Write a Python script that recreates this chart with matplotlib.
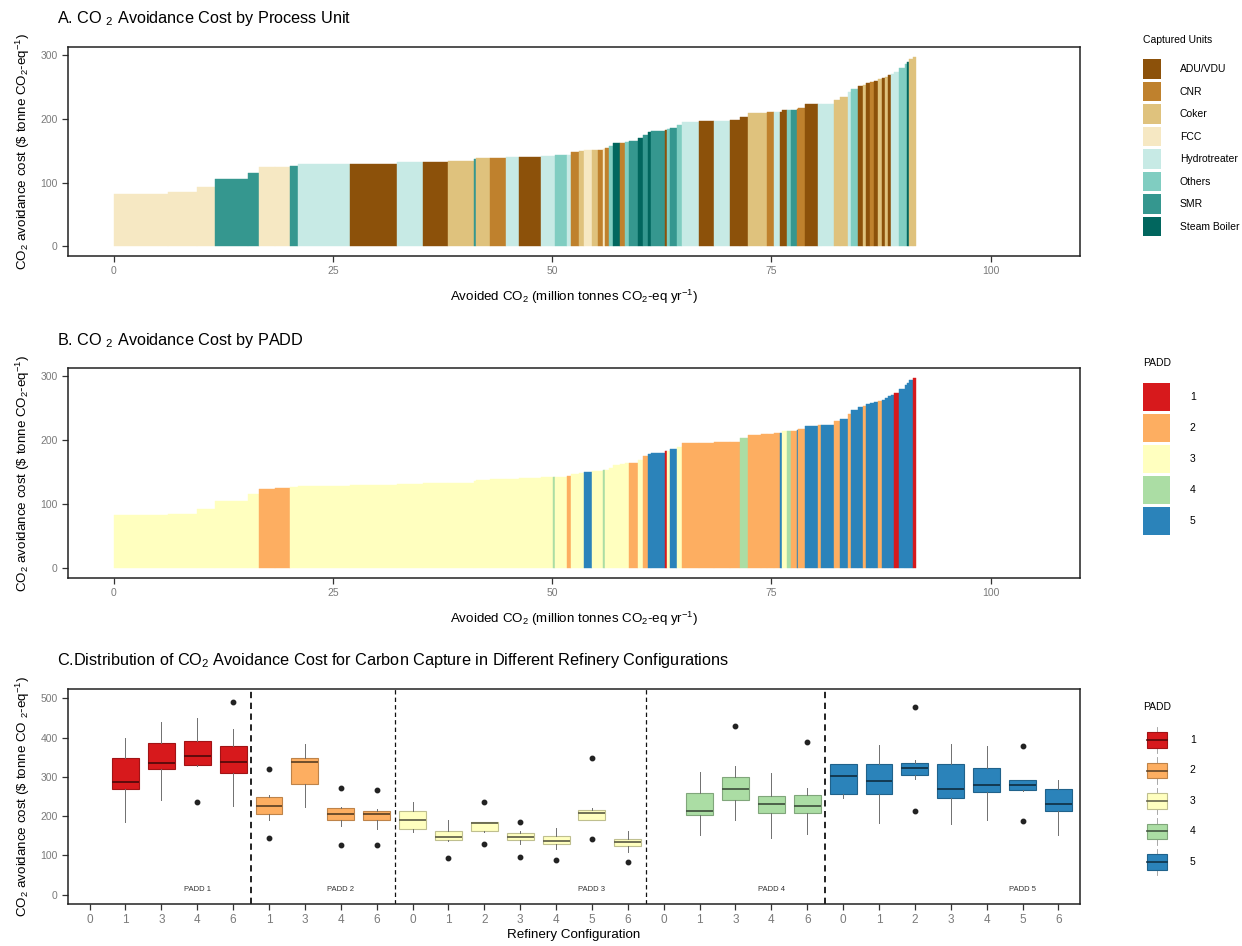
import numpy as np
import matplotlib
matplotlib.use("Agg")
import matplotlib.pyplot as plt
from matplotlib.patches import Patch, Rectangle
from matplotlib.lines import Line2D
from matplotlib.legend_handler import HandlerBase

plt.rcParams['font.family'] = ['Liberation Sans', 'DejaVu Sans']
plt.rcParams['mathtext.fontset'] = 'custom'
plt.rcParams['mathtext.rm'] = 'Liberation Sans'
plt.rcParams['mathtext.it'] = 'Liberation Sans:italic'
plt.rcParams['mathtext.bf'] = 'Liberation Sans:bold'

# ================= DATA: COST CURVE (panels A & B) =================
# avoided CO2 per captured unit (million t/yr), cost ($/t), unit type, PADD
avoided = [6.26, 3.23, 2.09, 3.80, 1.25, 1.78, 1.71, 0.88, 5.95, 5.40,
           2.96, 2.77, 3.04, 0.19, 1.59, 1.90, 1.44, 2.55, 1.31, 0.20,
           1.40, 0.50, 0.84, 0.61, 0.85, 0.74, 0.57, 0.19, 0.50, 0.45,
           0.76, 0.65, 0.44, 1.01, 0.57, 0.57, 0.38, 1.50, 0.27, 0.30,
           0.90, 0.50, 2.00, 1.70, 1.80, 1.10, 0.90, 1.50, 0.70, 0.80,
           0.70, 0.20, 0.60, 0.45, 0.65, 0.20, 0.70, 1.50, 0.40, 1.50,
           0.60, 0.90, 0.40, 0.80, 0.50, 0.40, 0.50, 0.40, 0.50, 0.40,
           0.40, 0.30, 0.35, 0.35, 0.60, 0.60, 0.30, 0.20, 0.50, 0.30]
cost = [83, 85.5, 93, 106, 116, 124, 125, 127, 129, 130,
        132, 133, 134, 137, 138.5, 139, 139.6, 141, 142, 142,
        143, 144, 148, 149, 150.6, 151.7, 152, 153, 154, 157,
        161.7, 163, 164, 165, 170, 175, 179, 181, 183, 184,
        186, 190, 196, 196.5, 197, 198, 203, 209, 209.5, 210.6,
        211, 211, 214, 214, 214.8, 216, 217, 223, 223.5, 224,
        230, 234, 241.6, 246.8, 252, 254, 256, 258, 260, 262,
        263.6, 266, 269, 271, 274, 280, 286, 290, 294, 298]
unit = ["FCC", "FCC", "FCC", "SMR", "SMR", "FCC", "FCC", "SMR", "Hydrotreater", "ADU/VDU",
        "Hydrotreater", "ADU/VDU", "Coker", "SMR", "Coker", "CNR", "Hydrotreater", "ADU/VDU", "Hydrotreater", "Hydrotreater",
        "Others", "Hydrotreater", "CNR", "Coker", "FCC", "Coker", "CNR", "FCC", "CNR", "Others",
        "Steam Boiler", "CNR", "Others", "SMR", "Steam Boiler", "SMR", "Steam Boiler", "SMR", "ADU/VDU", "Others",
        "SMR", "Others", "Hydrotreater", "ADU/VDU", "Hydrotreater", "ADU/VDU", "ADU/VDU", "Coker", "Coker", "CNR",
        "Hydrotreater", "ADU/VDU", "ADU/VDU", "Others", "SMR", "CNR", "CNR", "ADU/VDU", "Hydrotreater", "Hydrotreater",
        "Coker", "Coker", "Hydrotreater", "Others", "ADU/VDU", "Coker", "ADU/VDU", "CNR", "ADU/VDU", "Coker",
        "ADU/VDU", "Coker", "ADU/VDU", "Hydrotreater", "Hydrotreater", "Others", "Others", "Steam Boiler", "Coker", "Coker"]
padd = [3, 3, 3, 3, 3, 2, 2, 3, 3, 3,
        3, 3, 3, 3, 3, 3, 3, 3, 3, 4,
        3, 2, 3, 3, 5, 3, 3, 4, 3, 3,
        3, 3, 3, 2, 3, 2, 5, 5, 1, 3,
        5, 3, 2, 2, 2, 2, 4, 2, 2, 2,
        2, 5, 3, 4, 2, 5, 2, 5, 2, 5,
        2, 5, 2, 5, 5, 2, 5, 5, 5, 2,
        5, 5, 5, 5, 1, 5, 5, 5, 5, 1]

unit_names = ["ADU/VDU", "CNR", "Coker", "FCC", "Hydrotreater", "Others", "SMR", "Steam Boiler"]
unit_colors = ["#8C510A", "#BF812D", "#DFC27D", "#F6E8C3", "#C7EAE5", "#80CDC1", "#35978F", "#01665E"]
padd_names = [1, 2, 3, 4, 5]
padd_colors = ["#D7191C", "#FDAE61", "#FFFFBF", "#ABDDA4", "#2B83BA"]

# ================= DATA: BOXPLOTS (panel C) =================
box_padd = [1] * 5 + [2] * 4 + [3] * 7 + [4] * 5 + [5] * 7
box_cfg = ["0", "1", "3", "4", "6",
           "1", "3", "4", "6",
           "0", "1", "2", "3", "4", "5", "6",
           "0", "1", "3", "4", "6",
           "0", "1", "2", "3", "4", "5", "6"]
q1 = [None, 270, 320, 331, 310, 206, 283, 191, 190, 166, 139, 162, 138, 129, 190, 124,
      None, 202, 240, 207, 208, 257, 257, 304, 246, 261, 267, 213]
med = [None, 287, 335, 353, 338, 225, 339, 206, 206, 190, 147, 182, 146, 137, 209, 133,
       None, 213, 270, 230, 227, 301, 290, 323, 270, 280, 280, 231]
q3 = [None, 347, 387, 392, 378, 248, 348, 221, 213, 213, 162, 184, 157, 150, 215, 141,
      None, 260, 300, 251, 253, 333, 332, 336, 333, 323, 293, 268]
wlo = [None, 185, 242, 327, 227, 191, 224, 176, 168, 160, 136, 160, 128, 117, 189, 109,
       None, 152, 190, 143, 154, 247, 183, 295, 179, 189, 264, 152]
whi = [None, 400, 440, 451, 421, 255, 383, 224, 217, 236, 190, 185, 162, 170, 221, 162,
       None, 312, 329, 309, 271, 333, 381, 343, 384, 378, 293, 291]
outliers = [[], [], [], [236], [490], [319, 145], [], [271, 126], [266, 126], [], [94], [237, 128],
            [184, 96], [88], [347, 142], [83], [], [], [429], [], [389], [], [], [477, 214],
            [], [], [379, 187], []]


def darken(c, f):
    r, g, b = matplotlib.colors.to_rgb(c)
    return (r * f, g * f, b * f)


def style_axis(ax):
    for s in ax.spines.values():
        s.set_linewidth(1.1)
        s.set_color("#222222")
    ax.tick_params(axis="both", direction="out", length=4, width=0.9, color="#333333",
                   labelsize=7.5, labelcolor="#7a7a7a")


fig = plt.figure(figsize=(12.42, 9.46), dpi=100)
W, H = 1242, 946
L, R = 68, 1080


def add_ax(top, bottom):
    return fig.add_axes([L / W, 1 - bottom / H, (R - L) / W, (bottom - top) / H])


def fx(px):
    return px / W


def fy(py):
    return 1 - py / H


ylab = r"CO$_2$ avoidance cost (\$ tonne CO$_2$-eq$^{-1}$)"
xlab = r"Avoided CO$_2$ (million tonnes CO$_2$-eq yr$^{-1}$)"

widths = np.array(avoided)
starts = np.concatenate([[0], np.cumsum(widths)[:-1]])
ucol = dict(zip(unit_names, unit_colors))
pcol = dict(zip(padd_names, padd_colors))

# ================= PANEL A & B =================
axA = add_ax(47, 256)
axB = add_ax(368, 578)
for ax, cols in [(axA, [ucol[u] for u in unit]), (axB, [pcol[p] for p in padd])]:
    ax.bar(starts, cost, width=widths, align="edge", color=cols, edgecolor=cols, linewidth=0.3)
    ax.set_xlim(-5.2, 110.2)
    ax.set_ylim(-15, 313)
    ax.set_xticks([0, 25, 50, 75, 100])
    ax.set_yticks([0, 100, 200, 300])
    ax.set_ylabel(ylab, fontsize=9.6, labelpad=6)
    ax.set_xlabel(xlab, fontsize=9.6, labelpad=8)
    style_axis(ax)

TFS = 11.7
fig.text(fx(57), fy(18), r"A. CO $_2$ Avoidance Cost by Process Unit", fontsize=TFS, va="center")
fig.text(fx(57), fy(340), r"B. CO $_2$ Avoidance Cost by PADD", fontsize=TFS, va="center")

LFS = 7.5
fig.text(fx(1143), fy(40), "Captured Units", fontsize=LFS, va="center")
hA = [Patch(facecolor=c, edgecolor="none") for c in unit_colors]
fig.legend(hA, unit_names, loc="upper left", bbox_to_anchor=(fx(1143), fy(59)),
           frameon=False, fontsize=LFS, handlelength=1.75, handleheight=2.55,
           labelspacing=0.26, handletextpad=1.8, borderpad=0, borderaxespad=0)

fig.text(fx(1143), fy(363), "PADD", fontsize=LFS, va="center")
hB = [Patch(facecolor=c, edgecolor="none") for c in padd_colors]
fig.legend(hB, [str(p) for p in padd_names], loc="upper left", bbox_to_anchor=(fx(1143), fy(383)),
           frameon=False, fontsize=LFS, handlelength=2.6, handleheight=3.75,
           labelspacing=0.29, handletextpad=1.9, borderpad=0, borderaxespad=0)

# ================= PANEL C =================
axC = add_ax(689, 904)
pos = np.arange(1, len(box_cfg) + 1)
for i in range(len(box_cfg)):
    if med[i] is None:
        continue
    fc = pcol[box_padd[i]]
    stats = [dict(med=med[i], q1=q1[i], q3=q3[i], whislo=wlo[i], whishi=whi[i], fliers=outliers[i])]
    axC.bxp(stats, positions=[pos[i]], widths=0.75, patch_artist=True, showcaps=False,
            boxprops=dict(facecolor=fc, edgecolor=darken(fc, 0.75), linewidth=0.8),
            medianprops=dict(color=darken(fc, 0.4), linewidth=1.3),
            whiskerprops=dict(color="#6f6f6f", linewidth=0.7),
            flierprops=dict(marker="o", markersize=3.2, markerfacecolor="#222222",
                            markeredgecolor="#222222"))

# group separators and labels
group_sizes = [box_padd.count(p) for p in padd_names]
bounds = np.cumsum(group_sizes)
for k, b in enumerate(bounds[:-1]):
    axC.axvline(b + 0.5, color="#111111", linestyle=(0, (3.5, 2.5)),
                linewidth=1.3 if k in (0, 3) else 0.9)
for k, p in enumerate(padd_names):
    axC.text(bounds[k] - 1, 12, f"PADD {p}", fontsize=5.5, ha="center", va="center", color="#333333")

axC.set_xlim(0.4, len(box_cfg) + 0.6)
axC.set_ylim(-24, 524)
axC.set_xticks(pos)
axC.set_xticklabels(box_cfg)
axC.set_yticks([0, 100, 200, 300, 400, 500])
axC.set_ylabel(r"CO$_2$ avoidance cost (\$ tonne CO $_2$-eq$^{-1}$)", fontsize=9.6, labelpad=6)
axC.set_xlabel("Refinery Configuration", fontsize=9.6, labelpad=2)
style_axis(axC)
axC.tick_params(axis="x", labelsize=8.5)

fig.text(fx(57), fy(660),
         r"C.Distribution of CO$_2$ Avoidance Cost for Carbon Capture in Different Refinery Configurations",
         fontsize=TFS, va="center")


class BoxKey(HandlerBase):
    def create_artists(self, legend, orig_handle, xd, yd, w, h, fontsize, trans):
        fc = orig_handle.get_facecolor()
        x0, y0 = -xd, -yd
        wl = Line2D([x0 + w / 2] * 2, [y0, y0 + h], color="#9a9a9a", lw=0.6, transform=trans)
        bx = Rectangle((x0 + w * 0.08, y0 + h * 0.2), w * 0.84, h * 0.6, facecolor=fc,
                       edgecolor=darken(fc, 0.75), lw=0.8, transform=trans)
        md = Line2D([x0 + w * 0.08, x0 + w * 0.92], [y0 + h / 2] * 2, color=darken(fc, 0.4),
                    lw=1.2, transform=trans)
        return [wl, bx, md]


fig.text(fx(1143), fy(707), "PADD", fontsize=LFS, va="center")
hC = [Patch(facecolor=c) for c in padd_colors]
fig.legend(hC, [str(p) for p in padd_names], loc="upper left", bbox_to_anchor=(fx(1145), fy(727)),
           frameon=False, fontsize=LFS, handlelength=2.3, handleheight=3.5,
           labelspacing=0.4, handletextpad=2.0, borderpad=0, borderaxespad=0,
           handler_map={Patch: BoxKey()})

fig.savefig("out.png", dpi=100)
